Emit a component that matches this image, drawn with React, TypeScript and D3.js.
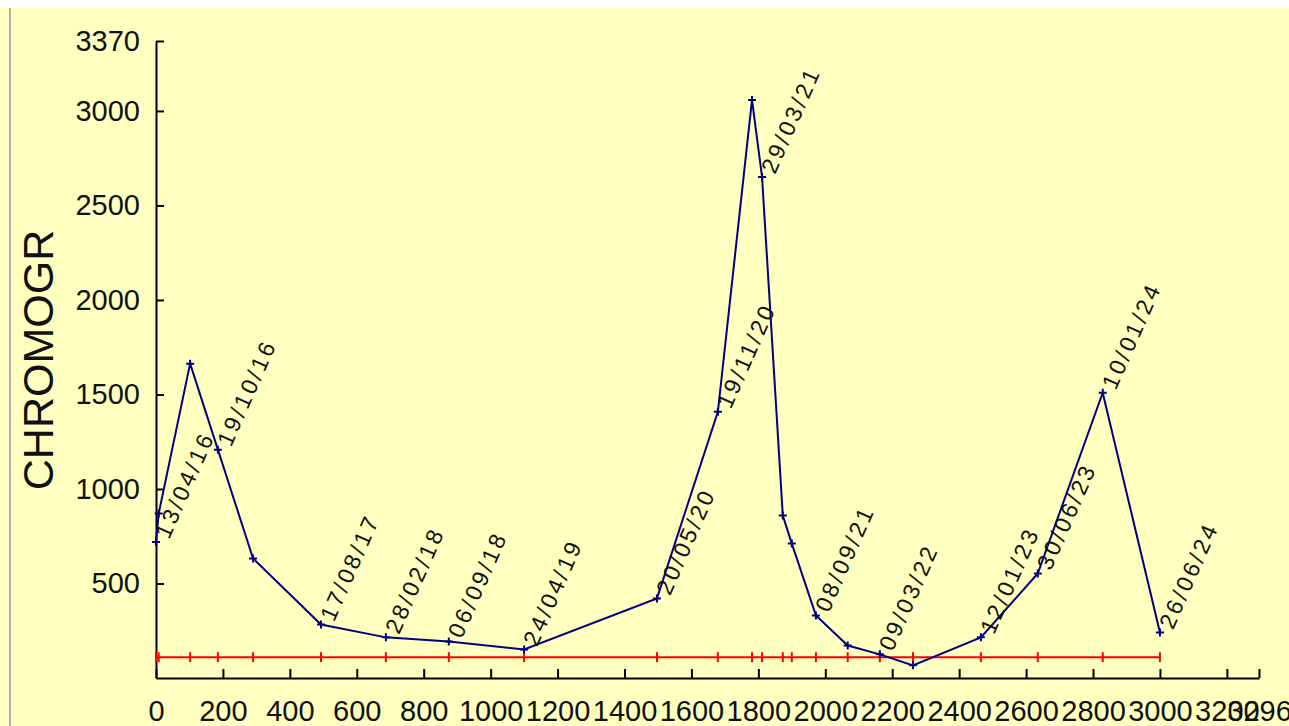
import React, { useRef, useEffect } from 'react';
import * as d3 from 'd3';

// days since first sample (13/04/16)
const days = [0, 8, 102, 185, 290, 493, 687, 875, 1100, 1497, 1679, 1781, 1811, 1873, 1900, 1972, 2067, 2163, 2262, 2465, 2635, 2829, 3000];
const values = [720, 870, 1663, 1208, 632, 283, 215, 193, 151, 421, 1408, 3058, 2651, 860, 711, 331, 172, 125, 67, 215, 553, 1509, 241];
const dateLabels = [
  "13/04/16", "", "", "19/10/16", "", "17/08/17", "28/02/18", "06/09/18", "24/04/19",
  "20/05/20", "19/11/20", "", "29/03/21", "", "", "08/09/21", "", "09/03/22", "",
  "12/01/23", "30/06/23", "10/01/24", "26/06/24"
];
const refLevel = 110;

const xTicks = [0, 200, 400, 600, 800, 1000, 1200, 1400, 1600, 1800, 2000, 2200, 2400, 2600, 2800, 3000, 3200, 3296];
const yTicks = [500, 1000, 1500, 2000, 2500, 3000, 3370];
const axisTitle = "CHROMOGR";

export default function App() {
  const ref = useRef<SVGSVGElement>(null);

  useEffect(() => {
    const svg = d3.select(ref.current);
    svg.selectAll("*").remove();

    const width = 1289;
    const height = 726;
    const font = "'Liberation Sans', Arial, sans-serif";

    // background
    svg.append("rect").attr("width", width).attr("height", height).attr("fill", "#ffffbf");
    svg.append("rect").attr("width", width).attr("height", 8).attr("fill", "#ffffff");
    svg.append("line")
      .attr("x1", 10).attr("x2", 10).attr("y1", 8).attr("y2", height)
      .attr("stroke", "#b0b0b0").attr("stroke-width", 2);

    const x = d3.scaleLinear().domain([0, 3296]).range([156, 1259]);
    const y = d3.scaleLinear().domain([0, 3370]).range([678, 41]);

    // axes (ticks point inward)
    const yAxis = svg.append("g")
      .attr("transform", `translate(${x(0)},0)`)
      .call(d3.axisLeft(y).tickValues(yTicks).tickFormat(d => String(d)).tickSizeInner(-8).tickSizeOuter(0).tickPadding(16));
    const xAxis = svg.append("g")
      .attr("transform", `translate(0,${y(0)})`)
      .call(d3.axisBottom(x).tickValues(xTicks).tickFormat(d => String(d)).tickSizeInner(-9).tickSizeOuter(0).tickPadding(22));

    [yAxis, xAxis].forEach(ax => {
      ax.select(".domain").attr("stroke", "#000").attr("stroke-width", 2);
      ax.selectAll(".tick line").attr("stroke", "#000").attr("stroke-width", 2);
      ax.selectAll("text")
        .attr("fill", "#111")
        .attr("font-family", font)
        .attr("font-size", 29);
    });

    // y title
    svg.append("text")
      .attr("transform", "translate(53,360) rotate(-90)")
      .attr("text-anchor", "middle")
      .attr("font-family", font)
      .attr("font-size", 43)
      .attr("fill", "#111")
      .text(axisTitle);

    // reference line (red)
    const refLine = d3.line<number>().x(d => x(d)).y(() => y(refLevel));
    svg.append("path")
      .datum(days)
      .attr("d", refLine)
      .attr("fill", "none")
      .attr("stroke", "#ff0000")
      .attr("stroke-width", 2);
    svg.append("g")
      .selectAll("path")
      .data(days)
      .enter()
      .append("path")
      .attr("d", d => `M${x(d)},${y(refLevel) - 5}V${y(refLevel) + 5}`)
      .attr("stroke", "#ff0000")
      .attr("stroke-width", 2);

    // measured series (blue)
    const line = d3.line<number>().x((d, i) => x(days[i])).y(d => y(d));
    svg.append("path")
      .datum(values)
      .attr("d", line)
      .attr("fill", "none")
      .attr("stroke", "#000080")
      .attr("stroke-width", 2);
    svg.append("g")
      .selectAll("path")
      .data(values)
      .enter()
      .append("path")
      .attr("d", (d, i) => `M${x(days[i])},${y(d) - 4}V${y(d) + 4}M${x(days[i]) - 4},${y(d)}H${x(days[i]) + 4}`)
      .attr("stroke", "#000080")
      .attr("stroke-width", 2);

    // date labels
    svg.append("g")
      .selectAll("text")
      .data(values.map((v, i) => ({ v, day: days[i], label: dateLabels[i] })).filter(d => d.label))
      .enter()
      .append("text")
      .attr("transform", d => `translate(${x(d.day) + 13},${y(d.v) - 2}) rotate(-66)`)
      .attr("font-family", font)
      .attr("font-size", 23)
      .attr("letter-spacing", 3)
      .attr("fill", "#111")
      .text(d => d.label);
  }, []);

  return <svg ref={ref} width={1289} height={726} style={{ position: "absolute", left: 0, top: 0 }}></svg>;
}
